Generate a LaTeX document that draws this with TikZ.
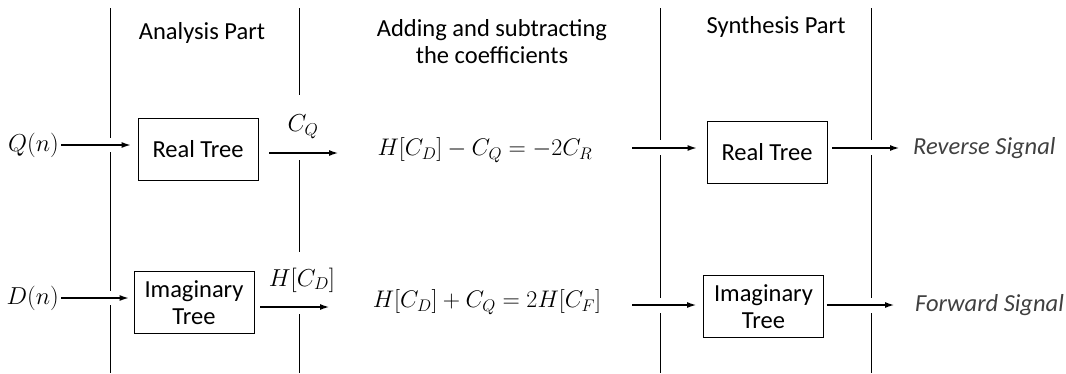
\RequirePackage{fix-cm}
\documentclass[tikz,border=0pt]{standalone}
\usepackage{fontspec}
\setmainfont{Carlito}
\usetikzlibrary{arrows.meta,positioning}

\begin{document}
\begin{tikzpicture}[x=1pt,y=-1pt,
  every node/.style={font=\fontsize{24.5}{27}\selectfont,inner sep=2pt},
  treebox/.style={draw,line width=0.9pt,minimum width=120pt,minimum height=62pt,align=center},
  flow/.style={-{Latex[length=10pt,width=6pt]},line width=2.4pt},
  part/.style={line width=0.9pt},
  eqn/.style={font=\fontsize{24}{27}\selectfont},
  sig/.style={font=\fontsize{24.5}{27}\selectfont\itshape,text=black!75}]
\useasboundingbox (0,0) rectangle (1066,373);
% column separators
\foreach \x/\a/\b/\c/\d in {110/138/152/291/305,299/95/160/252/314,660/140/155/298/313,871/140/155/298/313}
  \draw[part] (\x,8) -- (\x,\a) (\x,\b) -- (\x,\c) (\x,\d) -- (\x,373);
% headers
\node (ana) at (202,33) {Analysis Part};
\node[align=center] (mid) at (492,42) {Adding and subtracting\\the coefficients};
\node (syn) at (776,27) {Synthesis Part};
% trees
\node[treebox] (real1) at (198,149) {Real Tree};
\node[treebox] (imag1) at (194,302.5) {Imaginary\\Tree};
\node[treebox] (real2) at (767,152.5) {Real Tree};
\node[treebox] (imag2) at (763.5,306.5) {Imaginary\\Tree};
% inputs
\node[anchor=east] (qin) at (61,145) {$Q(n)$};
\node[anchor=east] (din) at (61,298) {$D(n)$};
\draw[flow,shorten >=6pt] (qin) -- (qin -| real1.west);
\draw[flow,shorten >=4pt] (din) -- (din -| imag1.west);
% analysis outputs
\coordinate (cq) at (339,153);
\coordinate (hcd) at (330,307);
\node (cqlab) at (303,127) {$C_Q$};
\node (hcdlab) at (302,280) {$H[C_D]$};
\draw[flow,shorten <=11pt] (real1.east |- cq) -- (cq);
\draw[flow,shorten <=6pt] (imag1.east |- hcd) -- (hcd);
% combinations
\node[eqn] (diff) at (485,150) {$H[C_D]-C_Q=-2C_R$};
\node[eqn] (sum) at (487,302) {$H[C_D]+C_Q=2H[C_F]$};
\coordinate (in1) at (632,148);
\coordinate (in2) at (632,305);
\draw[flow,shorten >=9pt] (in1) -- (in1 -| real2.west);
\draw[flow,shorten >=6pt] (in2) -- (in2 -| imag2.west);
% synthesis outputs
\node[sig,anchor=west] (rev) at (911,148) {Reverse Signal};
\node[sig,anchor=west] (fwd) at (913,305) {Forward Signal};
\draw[flow,shorten <=5pt,shorten >=11pt] (real2.east |- rev.west) -- (rev.west);
\draw[flow,shorten <=3pt,shorten >=18pt] (imag2.east |- fwd.west) -- (fwd.west);
\end{tikzpicture}
\end{document}
